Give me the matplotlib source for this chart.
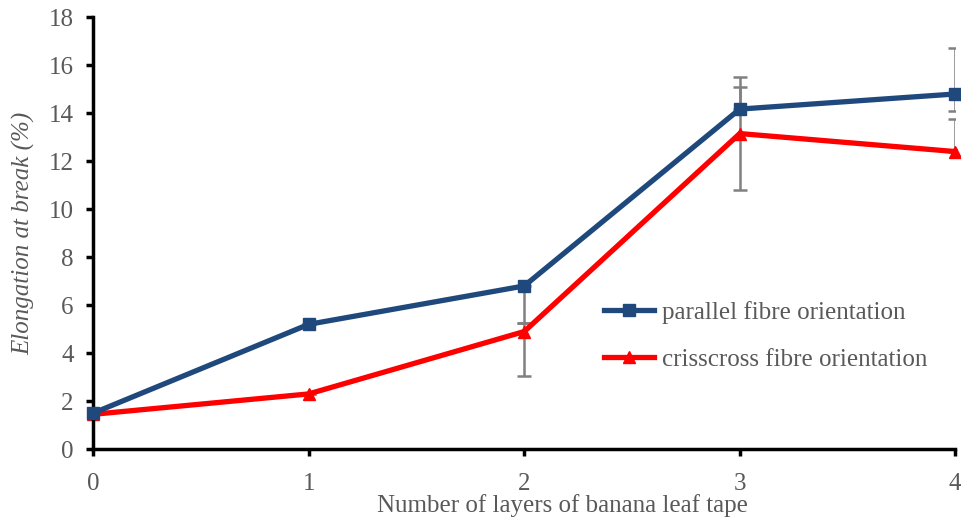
import matplotlib
matplotlib.use("Agg")
import matplotlib.pyplot as plt
import numpy as np

layers = [0, 1, 2, 3, 4]
parallel = [1.5, 5.2, 6.8, 14.17, 14.8]
crisscross = [1.45, 2.3, 4.9, 13.15, 12.4]
# asymmetric error bars as they appear in the picture (lower, upper)
parallel_err_lo = [0, 0, 1.55, 0, 0.7]
parallel_err_hi = [0, 0, 0, 1.33, 1.9]
crisscross_err_lo = [0, 0, 1.86, 2.35, 0]
crisscross_err_hi = [0, 0, 0.35, 1.93, 1.35]

plt.rcParams['font.family'] = ['Liberation Serif', 'DejaVu Serif']
grey = '#595959'

fig = plt.figure(figsize=(9.61, 5.21), dpi=100)
ax = fig.add_axes([0.097, 0.138, 0.897, 0.829])

ax.errorbar(layers, parallel, yerr=[parallel_err_lo, parallel_err_hi], fmt='none',
            ecolor='#808080', elinewidth=1.8, capsize=5, capthick=1.8, zorder=1)
ax.errorbar(layers, crisscross, yerr=[crisscross_err_lo, crisscross_err_hi], fmt='none',
            ecolor='#808080', elinewidth=1.8, capsize=5, capthick=1.8, zorder=1)

ax.plot(layers, parallel, color='#1F497D', lw=3.8, marker='s', ms=9,
        label='parallel fibre orientation', zorder=3, clip_on=False)
ax.plot(layers, crisscross, color='#FF0000', lw=3.8, marker='^', ms=9,
        label='crisscross fibre orientation', zorder=2, clip_on=False)

ax.set_xlim(0, 4)
ax.set_ylim(0, 18)
ax.set_xticks(layers)
ax.set_yticks(np.arange(0, 19, 2))
for s in ['top', 'right']:
    ax.spines[s].set_visible(False)
for s in ['left', 'bottom']:
    ax.spines[s].set_linewidth(2.5)
    ax.spines[s].set_color('black')
ax.tick_params(axis='both', length=5, width=2.5, color='black', labelcolor=grey,
               labelsize=18)
ax.tick_params(axis='y', pad=9)
ax.tick_params(axis='x', pad=12)

ax.set_xlabel('Number of layers of banana leaf tape', color=grey, fontsize=18)
ax.xaxis.set_label_coords(0.544, -0.105)
ax.set_ylabel('Elongation at break (%)', color=grey, fontsize=18, style='italic', labelpad=10)

leg = ax.legend(loc='upper left', bbox_to_anchor=(0.567, 0.395), frameon=False,
                fontsize=18, handlelength=2.0, handletextpad=0.3, labelspacing=0.98,
                labelcolor=grey)

fig.savefig('out.png', dpi=100)
